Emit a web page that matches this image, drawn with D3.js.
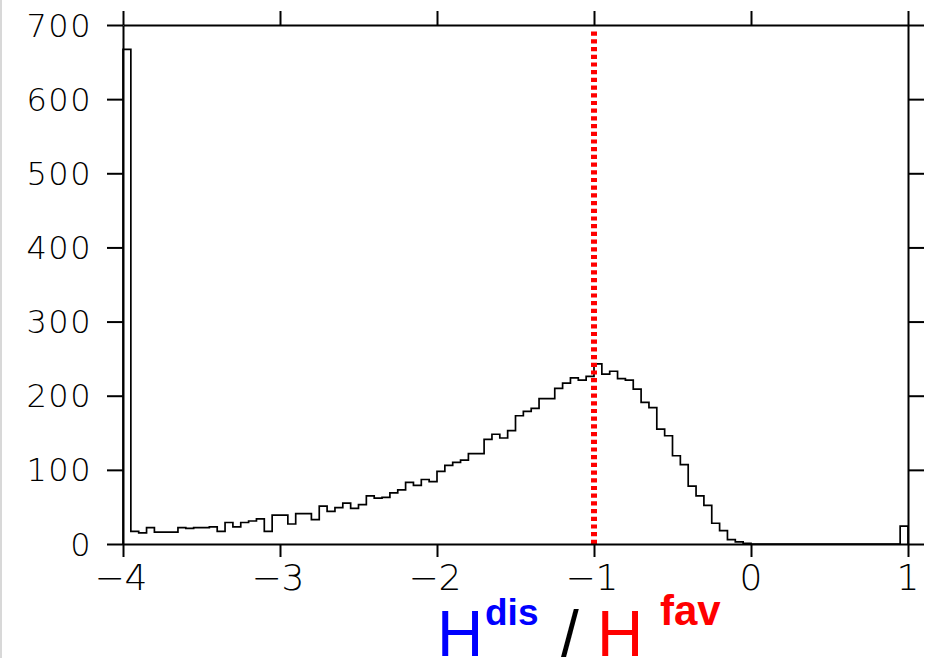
<!DOCTYPE html>
<html>
<head>
<meta charset="utf-8">
<script src="https://cdn.jsdelivr.net/npm/d3@7"></script>
<style>
  html, body { margin: 0; padding: 0; background: #fff; }
  svg { display: block; }
</style>
</head>
<body>
<svg id="chart"></svg>
<script>
// histogram of H_dis / H_fav, bins of 0.05 starting at -4
const binStart = -4;
const binWidth = 0.05;
const counts = [
  667, 17, 15, 22, 16, 16, 16, 22, 21, 22,
  22, 23, 17, 29, 23, 29, 31, 34, 17, 39,
  39, 27, 41, 41, 33, 51, 44, 49, 55, 48,
  53, 65, 62, 63, 69, 73, 83, 79, 87, 84,
  98, 106, 110, 113, 122, 122, 141, 148, 143, 153,
  173, 179, 183, 196, 196, 210, 217, 224, 221, 226,
  243, 229, 233, 223, 221, 209, 191, 184, 155, 146,
  119, 107, 78, 65, 52, 28, 18, 6, 3, 1,
  0, 0, 0, 0, 0, 0, 0, 0, 0, 0,
  0, 0, 0, 0, 0, 0, 0, 0, 0, 24
];
const xTicks = [-4, -3, -2, -1, 0, 1];
const yTicks = [0, 100, 200, 300, 400, 500, 600, 700];
const refLineX = -1;
const refLineTop = 693;

const W = 927, H = 658;
const margin = { left: 123, right: 19, top: 25, bottom: 114 };

const svg = d3.select("#chart").attr("width", W).attr("height", H);
svg.append("rect").attr("width", W).attr("height", H).attr("fill", "#fff");
svg.append("rect").attr("x", 0).attr("y", 0).attr("width", 2).attr("height", H).attr("fill", "#d8d8d8");

const x = d3.scaleLinear().domain([-4, 1]).range([margin.left, W - margin.right]);
const y = d3.scaleLinear().domain([0, 700]).range([H - margin.bottom, margin.top]);

const labelFont = "'DejaVu Sans', sans-serif";

// histogram outline (step)
const pts = [[binStart, 0]];
counts.forEach((c, i) => pts.push([binStart + i * binWidth, c]));
pts.push([binStart + counts.length * binWidth, counts[counts.length - 1]]);
pts.push([binStart + counts.length * binWidth, 0]);

const line = d3.line()
  .x((d) => x(d[0]))
  .y((d) => y(d[1]))
  .curve(d3.curveStepAfter);

svg.append("path")
  .attr("d", line(pts))
  .attr("fill", "none")
  .attr("stroke", "#000")
  .attr("stroke-width", 1.7);

// red dotted reference line
svg.append("line")
  .attr("x1", x(refLineX)).attr("x2", x(refLineX))
  .attr("y1", y(0)).attr("y2", y(refLineTop))
  .attr("stroke", "#ff0000")
  .attr("stroke-width", 6)
  .attr("stroke-dasharray", "4.2,3.5");

// axes on all four sides, outward ticks
const axisW = 2;
const axBottom = svg.append("g").attr("transform", `translate(0,${y(0)})`)
  .call(d3.axisBottom(x).tickValues(xTicks).tickSize(13).tickSizeOuter(0).tickFormat(""));
const axTop = svg.append("g").attr("transform", `translate(0,${y(700)})`)
  .call(d3.axisTop(x).tickValues(xTicks).tickSize(14).tickSizeOuter(0).tickFormat(""));
const axLeft = svg.append("g").attr("transform", `translate(${x(-4)},0)`)
  .call(d3.axisLeft(y).tickValues(yTicks).tickSize(16).tickSizeOuter(0).tickFormat(""));
const axRight = svg.append("g").attr("transform", `translate(${x(1)},0)`)
  .call(d3.axisRight(y).tickValues(yTicks).tickSize(16).tickSizeOuter(0).tickFormat(""));
[axBottom, axTop, axLeft, axRight].forEach((g) => {
  g.selectAll("path, line").attr("stroke", "#000").attr("stroke-width", axisW);
});

// tick labels
svg.append("g").selectAll("text")
  .data(yTicks)
  .join("text")
  .attr("x", x(-4) - 31)
  .attr("y", (d) => y(d) + 11.5)
  .attr("text-anchor", "end")
  .attr("font-family", labelFont)
  .attr("font-weight", 200)
  .attr("font-size", 32)
  .attr("letter-spacing", 1.5)
  .attr("fill", "#000")
  .text((d) => d);

svg.append("g").selectAll("text")
  .data(xTicks)
  .join("text")
  .attr("x", (d) => x(d) - (d < 0 ? 2 : 0))
  .attr("y", y(0) + 46)
  .attr("text-anchor", "middle")
  .attr("font-family", labelFont)
  .attr("font-weight", 200)
  .attr("font-size", 36)
  .attr("fill", "#000")
  .text((d) => (d < 0 ? "\u2212" + Math.abs(d) : d));

// x-axis title: H^dis / H^fav
const titleFont = "'Liberation Sans', Arial, sans-serif";
const title = svg.append("g").attr("font-family", titleFont);
title.append("text").attr("x", 437).attr("y", 656).attr("font-size", 64)
  .attr("fill", "#0000ff").text("H");
title.append("text").attr("x", 485).attr("y", 625).attr("font-size", 37)
  .attr("font-weight", "bold").attr("fill", "#0000ff").text("dis");
title.append("text").attr("x", 561).attr("y", 656).attr("font-size", 64)
  .attr("fill", "#000").text("/");
title.append("text").attr("x", 597).attr("y", 656).attr("font-size", 64)
  .attr("fill", "#ff0000").text("H");
title.append("text").attr("x", 660).attr("y", 625).attr("font-size", 42)
  .attr("font-weight", "bold").attr("fill", "#ff0000").text("fav");
</script>
</body>
</html>
